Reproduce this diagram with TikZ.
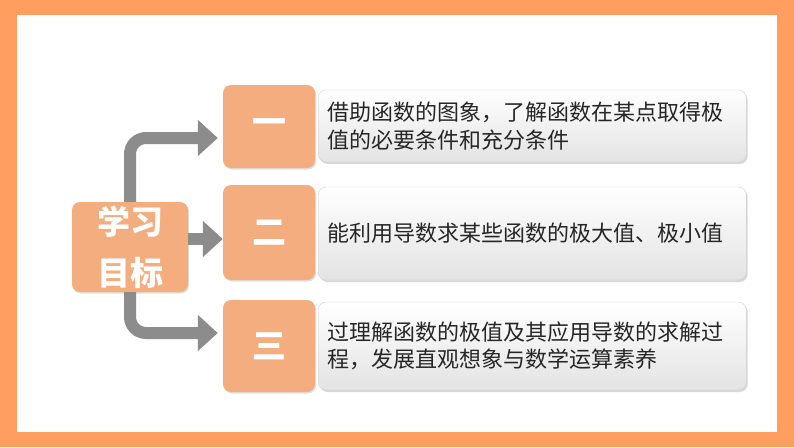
\documentclass[tikz,border=0pt]{standalone}
\usepackage{fontspec}
\newfontfamily\cjk{Noto Sans CJK SC}
\usetikzlibrary{positioning,arrows.meta,shadows}
\definecolor{frameorange}{HTML}{FF9E5E}
\definecolor{boxorange}{HTML}{F4AD7E}
\definecolor{arrowgray}{HTML}{8C8C8C}
\definecolor{textgray}{HTML}{262626}
\pgfdeclarelayer{back}
\pgfsetlayers{back,main}

\begin{document}
\begin{tikzpicture}[x=1pt, y=-1pt,
  numbox/.style={fill=boxorange, rounded corners=8pt, minimum width=92pt, text=white,
    font=\cjk\bfseries\fontsize{34}{40}\selectfont,
    drop shadow={opacity=0.25, shadow xshift=1pt, shadow yshift=-1.5pt}},
  aimbox/.style={draw=gray!35, top color=white, bottom color=gray!22, rounded corners=8pt,
    anchor=west, minimum width=428pt, text width=410pt, inner xsep=9pt, align=left,
    text=textgray, font=\cjk\fontsize{22}{27.5}\selectfont,
    drop shadow={opacity=0.3, shadow xshift=1.5pt, shadow yshift=-2pt}},
  flow/.style={line width=12pt, draw=arrowgray, rounded corners=16pt,
    -{Triangle[width=35pt,length=20pt]}, shorten >=5pt}]
  % left box and the three numbered boxes
  \node[numbox, minimum width=116pt, minimum height=90pt, align=center,
    font=\cjk\bfseries\fontsize{33}{51}\selectfont] (goal) at (130,247) {学习\\目标};
  \node[numbox, minimum height=83pt] (one) at (269,126.5) {一};
  \node[numbox, minimum height=95pt] (two) at (269,232.5) {二};
  \node[numbox, minimum height=92pt] (three) at (269,346) {三};
  % text boxes
  \node[aimbox, minimum height=72pt] (aimone) at (318,126) {借助函数的图象，了解函数在某点取得极\\值的必要条件和充分条件};
  \node[aimbox, minimum height=93pt] (aimtwo) at (318,233.5) {能利用导数求某些函数的极大值、极小值};
  \node[aimbox, minimum height=88pt] (aimthree) at (318,346) {过理解函数的极值及其应用导数的求解过\\程，发展直观想象与数学运算素养};
  \coordinate (midrow) at (0,239);
  \begin{pgfonlayer}{back}
    \fill[frameorange] (0,0) rectangle (794,447);
    \fill[white] (17,15) rectangle (777,432);
    \draw[flow] (goal.center) |- ([yshift=-11.5pt]one.west);
    \draw[flow, shorten >=0pt] (goal.east |- midrow) -- (two.west |- midrow);
    \draw[flow] (goal.center) |- ([yshift=13pt]three.west);
  \end{pgfonlayer}
\end{tikzpicture}
\end{document}
